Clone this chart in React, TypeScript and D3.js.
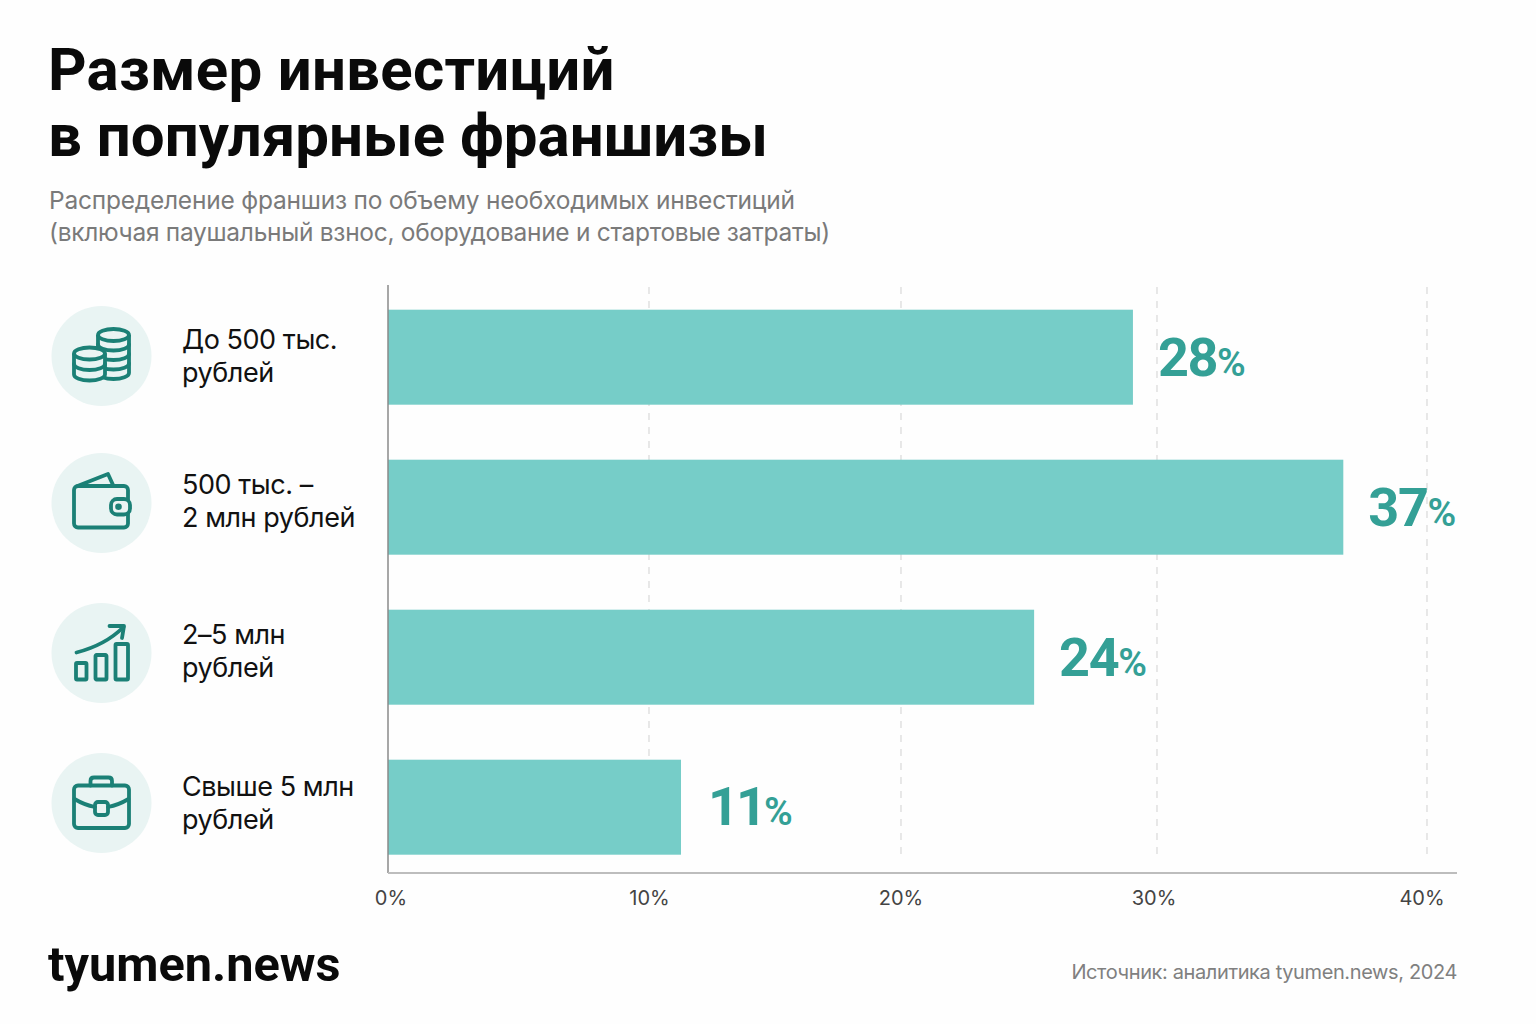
import React from "react";
import * as d3 from "d3";

const titleLines = ["Размер инвестиций", "в популярные франшизы"];
const subtitleLines = [
  "Распределение франшиз по объему необходимых инвестиций",
  "(включая паушальный взнос, оборудование и стартовые затраты)",
];
const categories = ["lt500", "500-2m", "2-5m", "gt5m"];
const categoryLines = [
  ["До 500 тыс.", "рублей"],
  ["500 тыс. –", "2 млн рублей"],
  ["2–5 млн", "рублей"],
  ["Свыше 5 млн", "рублей"],
];
const labelValues = [28, 37, 24, 11];
// Bar ends as measured against the drawn gridlines (the picture's bars do not sit exactly at their labels)
const barValues = [29.06, 36.9, 25.2, 11.27];
const tickValues = [0, 10, 20, 30, 40];
const brand = "tyumen.news";
const source = "Источник: аналитика tyumen.news, 2024";

const FONT = "Inter, 'Noto Sans', sans-serif";
const HEAD = "Roboto, Inter, sans-serif";
const ICON = "#1B8076";
const SW = 3.8;

const x = d3.scaleLinear().domain(tickValues).range([388, 649, 901, 1157, 1427]);
const y = d3
  .scaleBand<string>()
  .domain(categories)
  .range([282.2, 882.2])
  .paddingInner(0.3667)
  .paddingOuter(0.18333);

const iconCenters = [356, 503, 653, 803];
const labelFirstBaselines = [349, 494, 644, 796];
const tickNudge = [3, 0.5, 0, -3, -5];

function Icon({ i }: { i: number }) {
  const common = { fill: "none", stroke: ICON, strokeWidth: SW, strokeLinecap: "round" as const, strokeLinejoin: "round" as const };
  if (i === 0) {
    const stack = (cx: number, top: number, n: number, h: number) => {
      const rx = 15.5,
        ry = 6;
      const parts = [<ellipse key="t" cx={cx} cy={top} rx={rx} ry={ry} fill="#E9F4F3" stroke={ICON} strokeWidth={SW} />];
      parts.unshift(
        <path
          key="b"
          d={`M${cx - rx},${top} V${top + n * h} A${rx},${ry} 0 0 0 ${cx + rx},${top + n * h} V${top}`}
          fill="#E9F4F3"
          stroke={ICON}
          strokeWidth={SW}
        />
      );
      for (let k = 1; k < n; k++) {
        parts.push(
          <path key={k} d={`M${cx - rx},${top + k * h} A${rx},${ry} 0 0 0 ${cx + rx},${top + k * h}`} {...common} />
        );
      }
      return parts;
    };
    return (
      <g>
        {stack(12, -21, 4, 9.5)}
        {stack(-12, -2.5, 2, 10.5)}
      </g>
    );
  }
  if (i === 1) {
    return (
      <g {...common}>
        <path d="M-24,-17 L6.5,-29 L12,-17" />
        <rect x={-27.5} y={-17} width={54} height={41.5} rx={4} />
        <rect x={9.5} y={-4} width={19} height={15.5} rx={6} fill="#E9F4F3" />
        <circle cx={17} cy={3.7} r={1.4} fill={ICON} />
      </g>
    );
  }
  if (i === 2) {
    return (
      <g {...common}>
        <rect x={-25.5} y={10} width={10.5} height={16.5} rx={1} />
        <rect x={-6} y={2} width={11} height={24.5} rx={1} />
        <rect x={14} y={-9} width={12.5} height={35.5} rx={1} />
        <path d="M-25,-0.5 Q4,-8 22,-26" />
        <path d="M8,-27 H22.5 L20.5,-15" />
      </g>
    );
  }
  return (
    <g {...common}>
      <rect x={-27.5} y={-17.5} width={55} height={42.5} rx={4} />
      <path d="M-11,-17.5 V-22 Q-11,-25.5 -7.5,-25.5 H7 Q10.5,-25.5 10.5,-22 V-17.5" />
      <path d="M-27,-4 Q-17,2 -6.5,4" />
      <path d="M6.5,4 Q17,2 27,-4" />
      <rect x={-6.5} y={-1} width={13} height={13} rx={3} />
    </g>
  );
}

export default function App() {
  return (
    <svg
      width={1536}
      height={1024}
      viewBox="0 0 1536 1024"
      style={{ position: "absolute", left: 0, top: 0, background: "#FEFEFE", fontFamily: FONT }}
    >
      {titleLines.map((t, i) => (
        <text key={t} x={48} y={89.5 + i * 66} fontSize={60} fontWeight={700} fill="#0A0A0A" fontFamily={HEAD} letterSpacing={i === 0 ? 0.25 : 0}>
          {t}
        </text>
      ))}
      {subtitleLines.map((t, i) => (
        <text key={t} x={49} y={209 + i * 32} fontSize={24.5} fill="#7A7A7A" letterSpacing={i === 0 ? -0.22 : -0.29}>
          {t}
        </text>
      ))}

      {tickValues.slice(1).map((t) => (
        <line key={t} x1={x(t)} x2={x(t)} y1={287} y2={857} stroke="#DEDEDE" strokeWidth={1.4} strokeDasharray="7 7" />
      ))}

      {categories.map((c, i) => (
        <rect key={c} x={x(0)} y={y(c)} width={x(barValues[i]) - x(0)} height={y.bandwidth()} fill="#76CDC8" />
      ))}

      <line x1={388} x2={388} y1={285} y2={873} stroke="#8A8A8A" strokeWidth={1.5} />
      <line x1={388} x2={1457} y1={873} y2={873} stroke="#BDBDBD" strokeWidth={2} />

      {tickValues.map((t, i) => (
        <text key={t} x={x(t) + tickNudge[i]} y={905} fontSize={20} textAnchor="middle" fill="#444444">
          {t}%
        </text>
      ))}

      {categories.map((c, i) => {
        const narrow = labelValues[i] === 11;
        return (
          <text
            key={c}
            x={x(barValues[i]) + (narrow ? 27 : 25)}
            y={(y(c) as number) + y.bandwidth() / 2 + (narrow ? 18 : 19)}
            fill="#34A096"
            fontWeight={700}
            fontSize={54}
            fontFamily={HEAD}
            letterSpacing={narrow ? -3 : -1.4}
          >
            {labelValues[i]}
            <tspan fontSize={39} fontWeight={600} letterSpacing={0} dx={narrow ? 0 : 0}>
              %
            </tspan>
          </text>
        );
      })}

      {categories.map((c, i) => (
        <g key={c}>
          <circle cx={101.5} cy={iconCenters[i]} r={50} fill="#E9F4F3" />
          <g transform={`translate(101.5,${iconCenters[i]})`}>
            <Icon i={i} />
          </g>
          {categoryLines[i].map((l, j) => (
            <text key={l} x={182} y={labelFirstBaselines[i] + j * 33} fontSize={27} fill="#111111" letterSpacing={-0.45}>
              {l}
            </text>
          ))}
        </g>
      ))}

      <text x={48} y={981} fontSize={48.7} fontWeight={700} fill="#0A0A0A" fontFamily={HEAD}>
        {brand}
      </text>
      <text x={1457} y={979} fontSize={20} textAnchor="end" fill="#808080" letterSpacing={-0.38}>
        {source}
      </text>
    </svg>
  );
}
